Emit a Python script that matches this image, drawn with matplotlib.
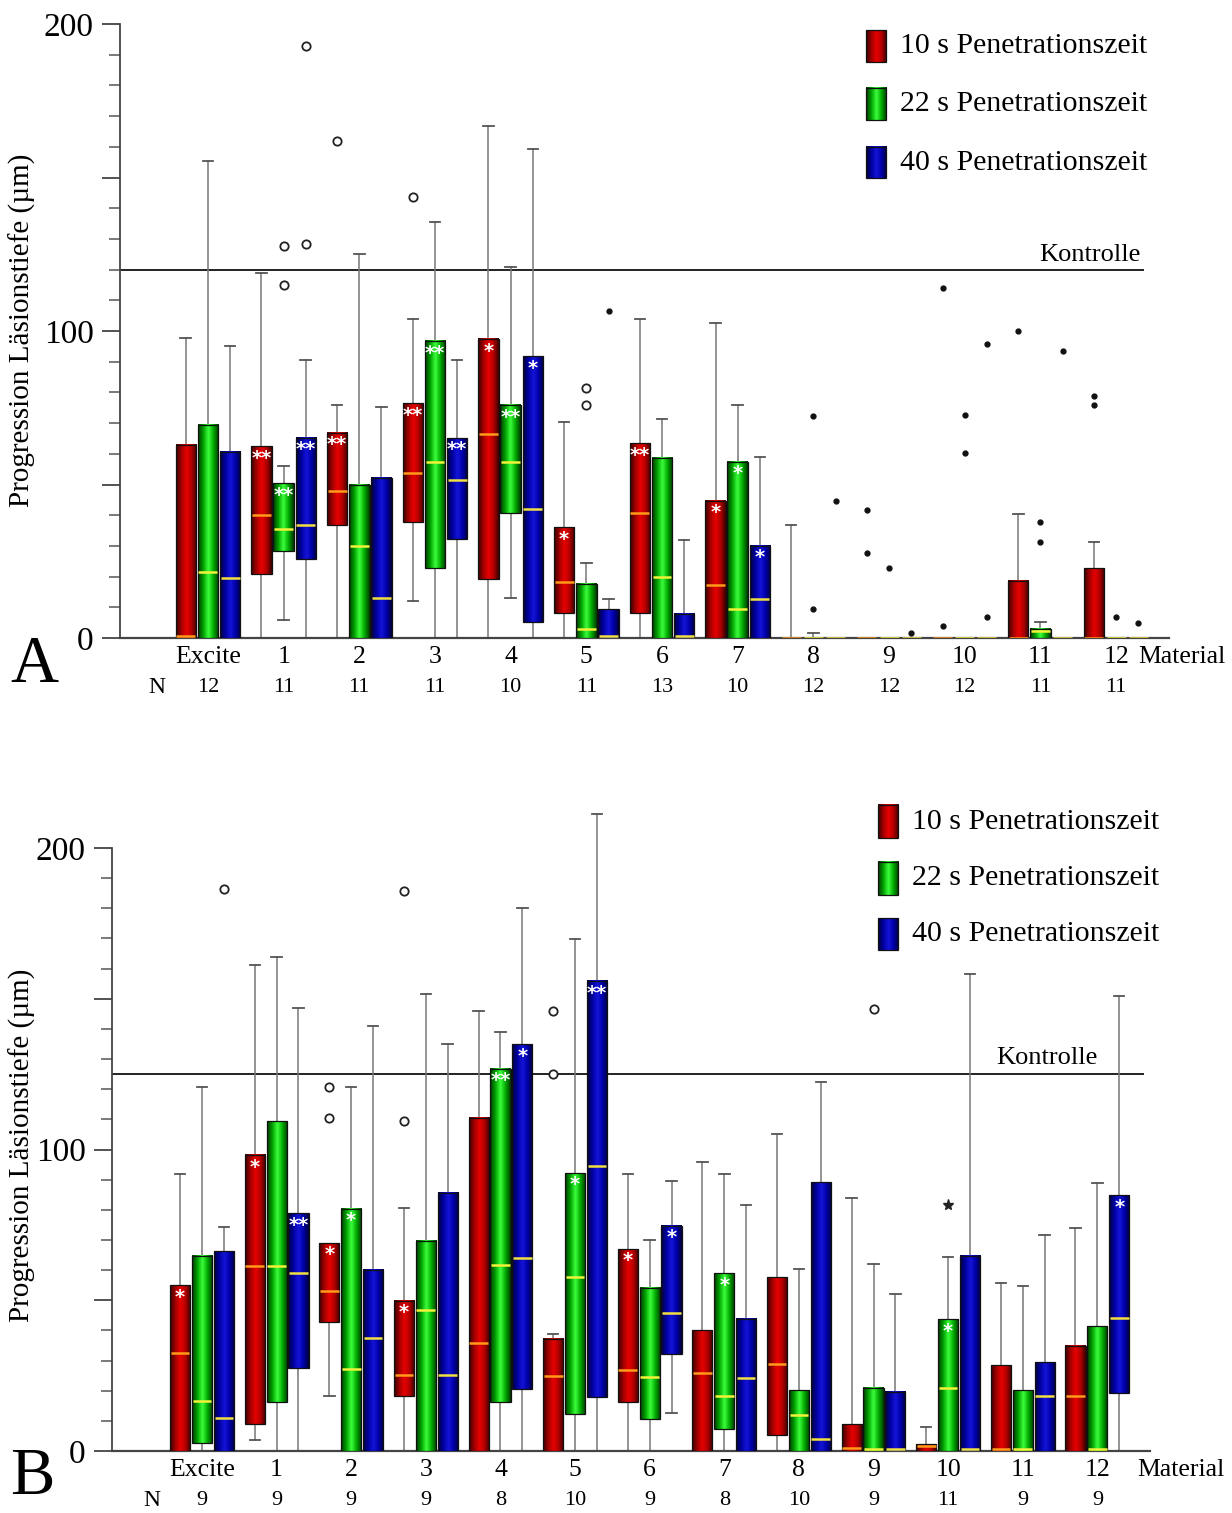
import numpy as np
import matplotlib
matplotlib.use('Agg')
import matplotlib.pyplot as plt
from matplotlib.colors import LinearSegmentedColormap

plt.rcParams['font.family'] = ['Liberation Serif', 'DejaVu Serif']

groups = ['Excite', '1', '2', '3', '4', '5', '6', '7', '8', '9', '10', '11', '12']
series = ['10 s Penetrationszeit', '22 s Penetrationszeit', '40 s Penetrationszeit']

# ---------- panel A ----------
a_n = [12, 11, 11, 11, 10, 11, 13, 10, 12, 12, 12, 11, 11]
a_control = 120

a_red_q1 = [0, 20.9, 36.9, 37.8, 19.1, 8.2, 8.2, 0, 0, 0, 0, 0, 0]
a_red_med = [0.5, 40, 47.8, 53.7, 66.4, 18.2, 40.7, 17.2, 0, 0, 0, 0, 0]
a_red_q3 = [63, 62.4, 66.9, 76.4, 97.3, 36.1, 63.4, 44.8, 0, 0, 0, 18.7, 22.8]
a_red_lo = [0, 0, 0, 12, 0, 0, 0, 0, 0, 0, 0, 0, 0]
a_red_hi = [97.8, 119, 76, 104, 166.9, 70.4, 104, 102.5, 36.9, 0, 0, 40.3, 31.3]

a_grn_q1 = [0, 28.4, 0, 22.7, 40.6, 0, 0, 0, 0, 0, 0, 0, 0]
a_grn_med = [21.6, 35.4, 29.9, 57.5, 57.2, 3, 19.9, 9.4, 0, 0, 0, 2.2, 0]
a_grn_q3 = [69.4, 50.4, 50, 96.7, 75.8, 17.6, 58.7, 57.5, 0, 0, 0, 3, 0]
a_grn_lo = [0, 6, 0, 0, 13, 0, 0, 0, 0, 0, 0, 0, 0]
a_grn_hi = [155.5, 56, 125, 135.4, 120.9, 24.6, 71.2, 76, 1.5, 0, 0, 5.2, 0]

a_blu_q1 = [0, 25.7, 0, 32.4, 5.2, 0, 0, 0, 0, 0, 0, 0, 0]
a_blu_med = [19.4, 36.9, 13, 51.5, 42, 0.5, 0.5, 12.7, 0, 0, 0, 0, 0]
a_blu_q3 = [60.7, 65.2, 52.2, 65.2, 91.8, 9.3, 7.9, 30.1, 0, 0, 0, 0, 0]
a_blu_lo = [0, 0, 0, 0, 0, 0, 0, 0, 0, 0, 0, 0, 0]
a_blu_hi = [95, 90.6, 75.4, 90.6, 159.4, 12.7, 31.8, 59, 0, 0, 0, 0, 0]

# outliers: (group index, series index, value)
a_circles = [(1, 1, 127.6), (1, 1, 115), (1, 2, 193), (1, 2, 128.4), (2, 0, 162),
             (3, 0, 143.6), (5, 1, 81.3), (5, 1, 75.8)]
a_dots = [(5, 2, 106.5), (8, 1, 72.4), (8, 1, 9.3), (8, 2, 44.8),
          (9, 0, 41.7), (9, 0, 27.6), (9, 1, 22.8), (9, 2, 1.8),
          (10, 0, 113.9), (10, 0, 4), (10, 1, 72.8), (10, 1, 60.4), (10, 2, 95.8), (10, 2, 7),
          (11, 0, 100), (11, 1, 37.8), (11, 1, 31.3), (11, 2, 93.6),
          (12, 0, 78.8), (12, 0, 75.8), (12, 1, 6.7), (12, 2, 4.8)]
a_asterisks = []
a_signif = [(1, 0, '**'), (1, 1, '**'), (1, 2, '**'), (2, 0, '**'),
            (3, 0, '**'), (3, 1, '**'), (3, 2, '**'),
            (4, 0, '*'), (4, 1, '**'), (4, 2, '*'), (5, 0, '*'), (6, 0, '**'),
            (7, 0, '*'), (7, 1, '*'), (7, 2, '*')]

# ---------- panel B ----------
b_n = [9, 9, 9, 9, 8, 10, 9, 8, 10, 9, 11, 9, 9]
b_control = 125

b_red_q1 = [0, 8.8, 42.9, 18.1, 0, 0, 16.3, 0, 5.4, 0, 0, 0, 0]
b_red_med = [32.6, 61.2, 53.2, 25.1, 35.7, 24.8, 26.8, 25.9, 28.7, 1, 1.5, 0.5, 18.1]
b_red_q3 = [55, 98.1, 69, 49.9, 110.5, 37.2, 67, 40, 57.8, 8.8, 2.3, 28.4, 34.9]
b_red_lo = [0, 3.6, 18.1, 0, 0, 0, 0, 0, 0, 0, 0, 0, 0]
b_red_hi = [91.8, 161.2, 69, 80.6, 146, 38.8, 91.8, 95.7, 105, 84, 7.8, 55.8, 74.1]

b_grn_q1 = [2.6, 16.3, 0, 0, 16.3, 12.4, 10.5, 7.3, 0, 0, 0, 0, 0]
b_grn_med = [16.6, 61.2, 27.1, 46.8, 61.6, 57.7, 24.5, 18.1, 11.9, 0.5, 20.9, 0.5, 0.5]
b_grn_q3 = [64.7, 109.3, 80.3, 69.8, 126.8, 92.2, 54, 58.9, 20.2, 20.9, 43.7, 20.2, 41.4]
b_grn_lo = [0, 0, 0, 0, 0, 0, 0, 0, 0, 0, 0, 0, 0]
b_grn_hi = [120.9, 164, 120.9, 151.6, 139, 169.8, 70.1, 91.8, 60.5, 62, 64.3, 54.6, 88.8]

b_blu_q1 = [0, 27.4, 0, 0, 20.6, 17.8, 32.1, 0, 0, 0, 0, 0, 19.4]
b_blu_med = [11, 59.2, 37.5, 25.3, 63.9, 94.6, 45.7, 24.3, 3.9, 0.5, 0.5, 18.1, 44.2]
b_blu_q3 = [66.2, 78.8, 60.2, 85.6, 134.9, 155.8, 74.7, 43.9, 89.1, 19.7, 64.7, 29.5, 84.8]
b_blu_lo = [0, 0, 0, 0, 0, 0, 12.7, 0, 0, 0, 0, 0, 0]
b_blu_hi = [74.4, 147, 141, 134.9, 180.2, 211.3, 89.6, 81.7, 122.5, 52.2, 158.1, 71.8, 150.9]

b_circles = [(0, 2, 186.5), (2, 0, 120.9), (2, 0, 110.5), (3, 0, 185.6), (3, 0, 109.6),
             (5, 0, 146), (5, 0, 125.1), (9, 1, 146.5)]
b_dots = []
b_asterisks = [(10, 1, 81.7)]
b_signif = [(0, 0, '*'), (1, 0, '*'), (1, 2, '**'), (2, 0, '*'), (2, 1, '*'), (3, 0, '*'),
            (4, 1, '**'), (4, 2, '*'), (5, 1, '*'), (5, 2, '**'), (6, 0, '*'), (6, 2, '*'),
            (7, 1, '*'), (10, 1, '*'), (12, 2, '*')]

# ---------- styling ----------
cmaps = [
    LinearSegmentedColormap.from_list('r', ['#3c0000', '#a00000', '#e80000', '#b00000', '#3c0000']),
    LinearSegmentedColormap.from_list('g', ['#003800', '#00a000', '#3cff3c', '#00a800', '#003800']),
    LinearSegmentedColormap.from_list('b', ['#000038', '#0000a0', '#1414d8', '#0000a8', '#000038']),
]
med_colors = ['#ff9a1a', '#f2f23a', '#f0e040']
grad = np.linspace(0, 1, 64).reshape(1, -1)
W = 0.27
OFF = 0.293


def gradient_box(ax, xc, y0, y1, k, clip=True):
    ax.imshow(grad, cmap=cmaps[k], extent=[xc - W / 2, xc + W / 2, y0, y1],
              aspect='auto', zorder=3, interpolation='bilinear', clip_on=clip)
    ax.add_patch(plt.Rectangle((xc - W / 2, y0), W, y1 - y0, fill=False,
                               ec='#111111', lw=0.9, zorder=4, clip_on=clip))


def draw_panel(ax, stats, circles, dots, asterisks, signif, n, control,
               xlim, ctrl_end, ymax, legend_pos, ctrl_text, label_y, mat_x):
    for k, (q1s, meds, q3s, los, his) in enumerate(stats):
        for i in range(len(groups)):
            xc = i + (k - 1) * OFF
            q1, med, q3, lo, hi = q1s[i], meds[i], q3s[i], los[i], his[i]
            if hi > q3:
                ax.plot([xc, xc], [q3, hi], color='#777777', lw=1.1, zorder=2)
                ax.plot([xc - 0.07, xc + 0.07], [hi, hi], color='#555555', lw=1.3, zorder=2)
            if q1 > lo:
                ax.plot([xc, xc], [lo, q1], color='#777777', lw=1.1, zorder=2)
                if lo > 0:
                    ax.plot([xc - 0.07, xc + 0.07], [lo, lo], color='#555555', lw=1.3, zorder=2)
            if q3 > q1:
                gradient_box(ax, xc, q1, q3, k)
            ax.plot([xc - W / 2 + 0.01, xc + W / 2 - 0.01], [med, med],
                    color=med_colors[k], lw=1.8, zorder=5, solid_capstyle='butt')
    for g, k, v in circles:
        ax.plot(g + (k - 1) * OFF, v, 'o', ms=6, mfc='white', mec='#222222', mew=1.3, zorder=6)
    for g, k, v in dots:
        ax.plot(g + (k - 1) * OFF, v, 'o', ms=3.5, color='#111111', zorder=6)
    for g, k, v in asterisks:
        ax.plot(g + (k - 1) * OFF, v, '*', ms=8, color='#222222', zorder=6)
    q3_all = [s[2] for s in stats]
    for g, k, txt in signif:
        ax.text(g + (k - 1) * OFF, q3_all[k][g] - 0.8, txt, color='white', fontsize=14,
                fontweight='bold', ha='center', va='top', zorder=7,
                family='DejaVu Sans')

    # control line and x axis line
    ax.plot([xlim[0], ctrl_end], [control, control], color='#222222', lw=1.4, zorder=1)
    ax.text(ctrl_text[0], ctrl_text[1], 'Kontrolle', fontsize=19, ha='center', va='center')
    ax.plot([xlim[0], 12.7], [0, 0], color='#444444', lw=1.6, zorder=2.5, clip_on=False)

    # category labels and N row
    for i, g in enumerate(groups):
        ax.text(i, label_y, g, ha='center', va='center', fontsize=18.5, clip_on=False)
        ax.text(i, label_y - 10, str(n[i]), ha='center', va='center', fontsize=16, clip_on=False)
    ax.text(-0.67, label_y - 10, 'N', ha='center', va='center', fontsize=17)
    ax.text(mat_x, label_y, 'Material', ha='left', va='center', fontsize=18.5, clip_on=False)

    # legend
    bx, tx, rows = legend_pos
    for k, (y0, y1) in enumerate(rows):
        gradient_box(ax, bx, y0, y1, k, clip=False)
        ax.text(tx, (y0 + y1) / 2, series[k], fontsize=21.5, ha='left', va='center', clip_on=False)

    ax.set_xlim(*xlim)
    ax.set_ylim(0, ymax)
    for s in ['top', 'right', 'bottom']:
        ax.spines[s].set_visible(False)
    ax.spines['left'].set_bounds(0, 200)
    ax.spines['left'].set_color('#444444')
    ax.spines['left'].set_linewidth(1.3)
    ax.set_xticks([])
    ax.set_yticks([0, 50, 100, 150, 200])
    ax.set_yticklabels(['0', '', '100', '', '200'])
    ax.set_yticks(np.arange(0, 201, 10), minor=True)
    ax.tick_params(axis='y', which='major', length=13, width=1.3, color='#444444',
                   labelsize=24, pad=6)
    ax.tick_params(axis='y', which='minor', length=8, width=1.1, color='#555555')


fig = plt.figure(figsize=(12.32, 15.13), dpi=100)

axA = fig.add_axes([0.0974, 0.5783, 0.852, 0.4058])
draw_panel(axA,
           [(a_red_q1, a_red_med, a_red_q3, a_red_lo, a_red_hi),
            (a_grn_q1, a_grn_med, a_grn_q3, a_grn_lo, a_grn_hi),
            (a_blu_q1, a_blu_med, a_blu_q3, a_blu_lo, a_blu_hi)],
           a_circles, a_dots, a_asterisks, a_signif, a_n, a_control,
           (-1.162, 12.708), 12.35, 200,
           (8.825, 9.14, [(187.6, 198), (168.7, 179.2), (149.8, 160)]),
           (11.66, 124.8), -6.2, 12.29)

axB = fig.add_axes([0.0909, 0.04098, 0.841, 0.4284])
draw_panel(axB,
           [(b_red_q1, b_red_med, b_red_q3, b_red_lo, b_red_hi),
            (b_grn_q1, b_grn_med, b_grn_q3, b_grn_lo, b_grn_hi),
            (b_blu_q1, b_blu_med, b_blu_q3, b_blu_lo, b_blu_hi)],
           b_circles, b_dots, b_asterisks, b_signif, b_n, b_control,
           (-1.206, 12.68), 12.61, 215,
           (9.196, 9.52, [(203.3, 214.3), (184.4, 195.4), (166.2, 176.8)]),
           (11.33, 130.3), -6.3, 12.53)

ylab = 'Progression Läsionstiefe (µm)'
fig.text(22 / 1232, 1 - 330 / 1513, ylab, rotation=90, fontsize=21, ha='center', va='center')
fig.text(22 / 1232, 1 - 1145 / 1513, ylab, rotation=90, fontsize=21, ha='center', va='center')
fig.text(34 / 1232, 1 - 665 / 1513, 'A', fontsize=48, ha='center', va='center')
fig.text(32 / 1232, 1 - 1478 / 1513, 'B', fontsize=48, ha='center', va='center')

fig.savefig('out.png', dpi=100)
